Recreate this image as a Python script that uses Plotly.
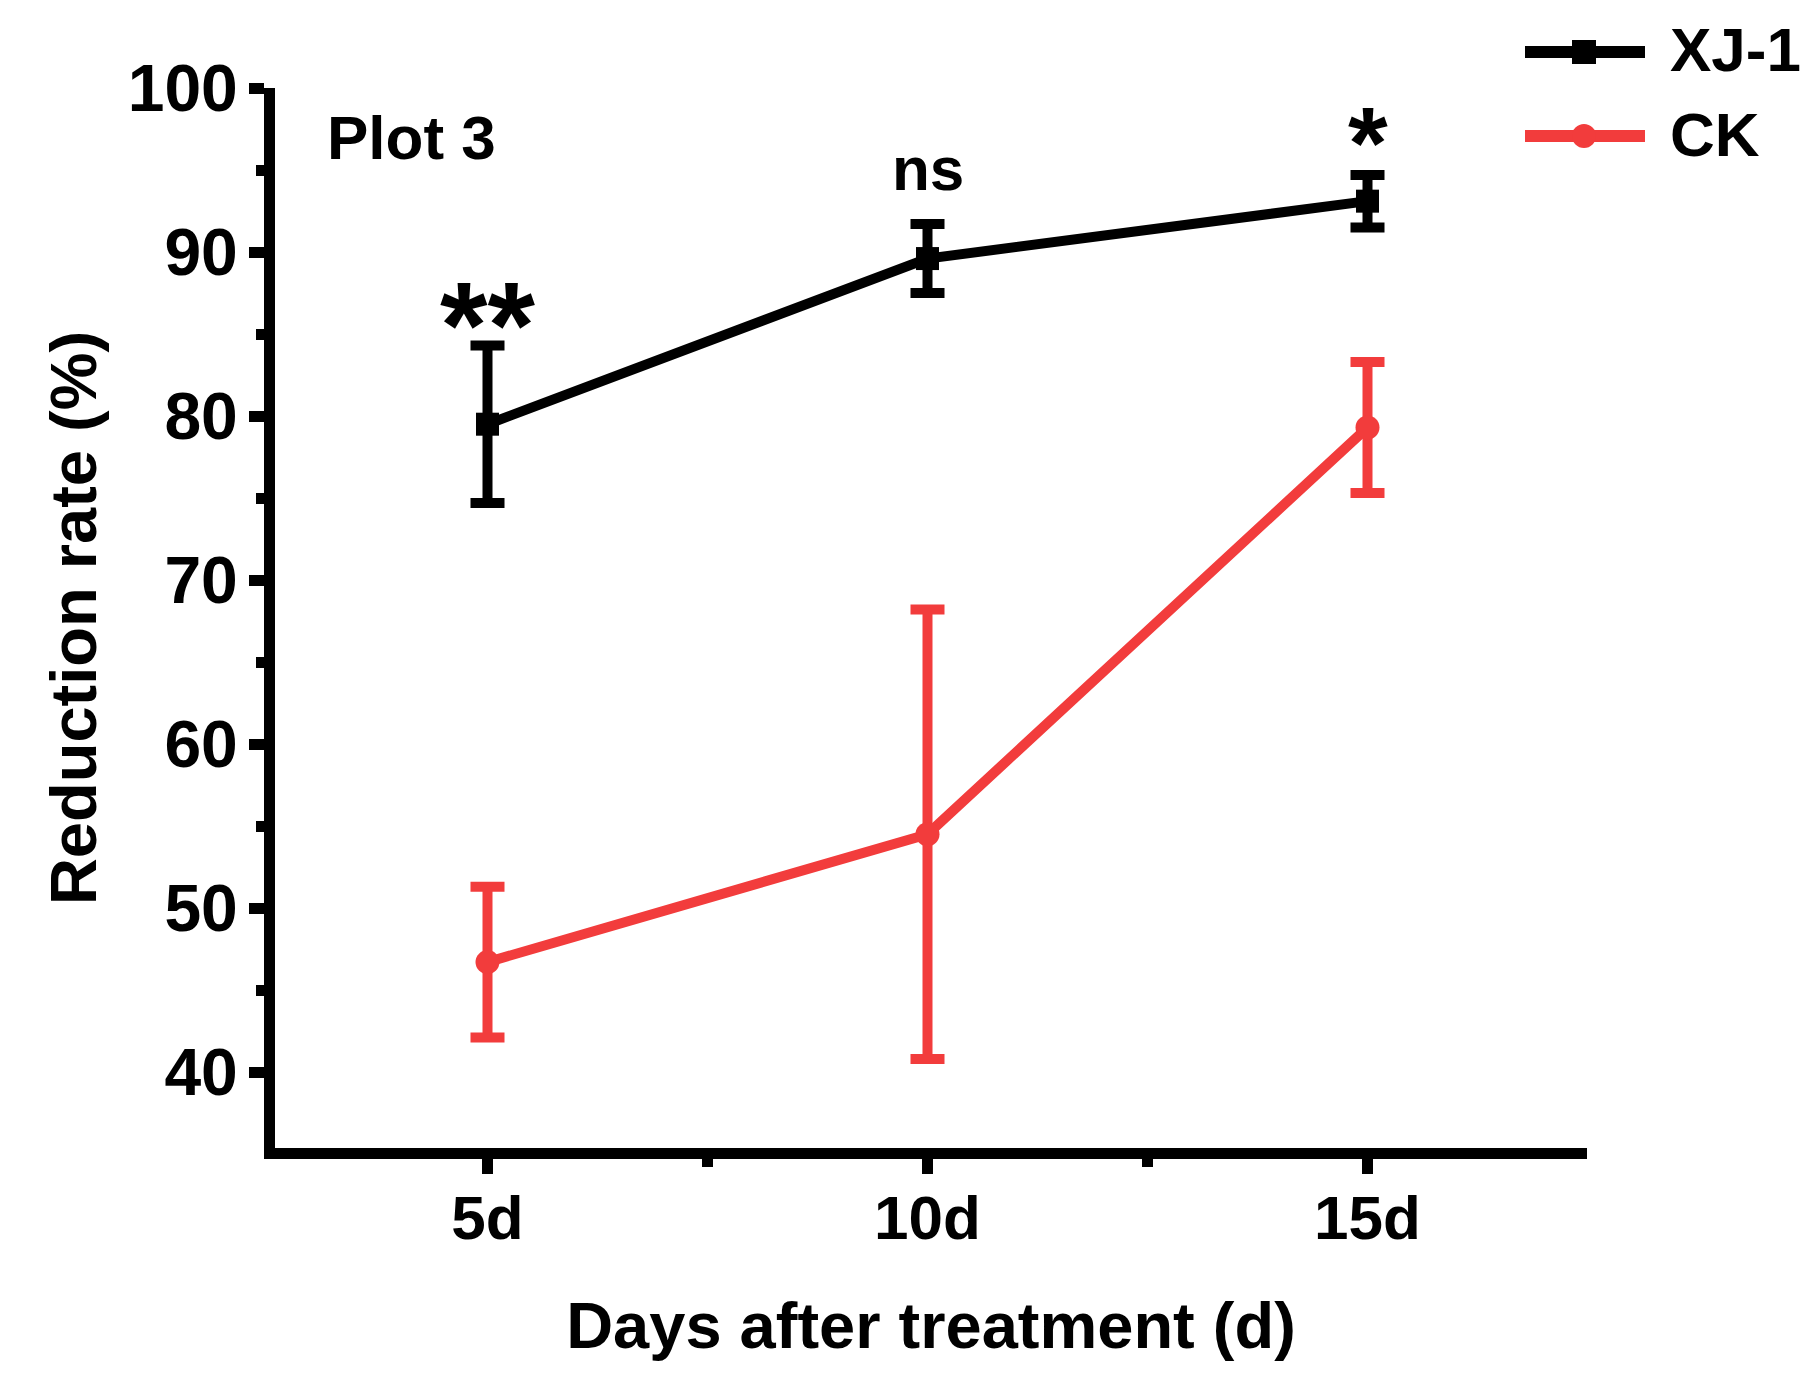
import plotly.graph_objects as go

# ---------------- data ----------------
days = [5, 10, 15]
day_labels = ["5d", "10d", "15d"]
xj1_mean = [79.5, 89.6, 93.1]
xj1_err = [4.8, 2.1, 1.6]
ck_mean = [46.7, 54.5, 79.3]
ck_err = [4.6, 13.7, 4.0]
sig_labels = ["**", "ns", "*"]
sig_sizes = [122, 62, 102]
sig_shift = [-50, 19, -27]
y_ticks = [40, 50, 60, 70, 80, 90, 100]
x_minor = [2.5, 7.5, 12.5, 17.5]

BLACK = "#000000"
RED = "#F23C3C"
FONT = "Liberation Sans"
FS = 62
FY = 66
FT = 65

W, H = 1819, 1397
ML, MR, MT, MB = 275, 232, 88, 249
PW, PH = W - ML - MR, H - MT - MB

fig = go.Figure()

fig.add_trace(go.Scatter(
    x=days, y=ck_mean, name="CK", mode="lines+markers",
    line=dict(color=RED, width=10),
    marker=dict(symbol="circle", size=24, color=RED),
    error_y=dict(type="data", array=ck_err, visible=True,
                 color=RED, thickness=10, width=17),
    showlegend=False,
))
fig.add_trace(go.Scatter(
    x=days, y=xj1_mean, name="XJ-1", mode="lines+markers",
    line=dict(color=BLACK, width=10),
    marker=dict(symbol="square", size=23, color=BLACK),
    error_y=dict(type="data", array=xj1_err, visible=True,
                 color=BLACK, thickness=10, width=17),
    showlegend=False,
))

annotations = []
for d, m, e, t, s, sh in zip(days, xj1_mean, xj1_err, sig_labels, sig_sizes, sig_shift):
    annotations.append(dict(
        x=d, y=m + e, xref="x", yref="y", text=t, showarrow=False,
        xanchor="center", yanchor="bottom", yshift=sh,
        font=dict(family=FONT, size=s, color=BLACK, weight="bold"),
    ))

def px_x(p):
    return (p - ML) / PW

def px_y(p):
    return (H - MB - p) / PH

annotations.append(dict(
    x=px_x(325), y=px_y(137), xref="paper", yref="paper", text="Plot 3",
    showarrow=False, xanchor="left", yanchor="middle",
    font=dict(family=FONT, size=FS, color=BLACK, weight="bold"),
))

# manual legend
legend_items = [("XJ-1", BLACK, "rect", 52), ("CK", RED, "circle", 136)]
shapes = []
for name, col, sym, yy in legend_items:
    shapes.append(dict(type="line", xref="paper", yref="paper",
                       x0=px_x(1525), x1=px_x(1645), y0=px_y(yy), y1=px_y(yy),
                       line=dict(color=col, width=12)))
    half = 12
    shapes.append(dict(type=sym, xref="paper", yref="paper",
                       xsizemode="pixel", ysizemode="pixel",
                       xanchor=px_x(1584), yanchor=px_y(yy),
                       x0=-half, x1=half, y0=-half, y1=half,
                       fillcolor=col, line=dict(color=col, width=0)))
    annotations.append(dict(
        x=px_x(1668), y=px_y(yy - 2), xref="paper", yref="paper", text=name,
        showarrow=False, xanchor="left", yanchor="middle",
        font=dict(family=FONT, size=FS, color=BLACK, weight="bold"),
    ))

x0 = 5 - (487.5 - ML) / 88.0
x1 = x0 + PW / 88.0
y1 = 100.0
y0 = 100.0 - PH / 16.4

axis_common = dict(
    showline=True, linecolor=BLACK, linewidth=11,
    ticks="outside", tickcolor=BLACK, tickwidth=11, ticklen=15,
    showgrid=False, zeroline=False,
)

fig.update_layout(
    width=W, height=H,
    margin=dict(l=ML, r=MR, t=MT, b=MB, pad=0),
    paper_bgcolor="white", plot_bgcolor="white",
    xaxis=dict(
        range=[x0, x1], tickvals=days, ticktext=day_labels,
        tickfont=dict(family=FONT, size=FS, color=BLACK, weight="bold"),
        minor=dict(tickvals=x_minor, ticks="outside", ticklen=8,
                   tickwidth=11, tickcolor=BLACK),
        title=dict(text="Days after treatment (d)", standoff=56,
                   font=dict(family=FONT, size=FT, color=BLACK, weight="bold")),
        ticklabelstandoff=-9,
        **axis_common,
    ),
    yaxis=dict(
        range=[y0, y1], tickvals=y_ticks,
        tickfont=dict(family=FONT, size=FY, color=BLACK, weight="bold"),
        minor=dict(dtick=5, tick0=0, ticks="outside", ticklen=8,
                   tickwidth=11, tickcolor=BLACK),
        title=dict(text="Reduction rate (%)", standoff=14,
                   font=dict(family=FONT, size=FT, color=BLACK, weight="bold")),
        ticklabelstandoff=-2,
        **axis_common,
    ),
    annotations=annotations,
    shapes=shapes,
)

fig.write_html("out.html")
